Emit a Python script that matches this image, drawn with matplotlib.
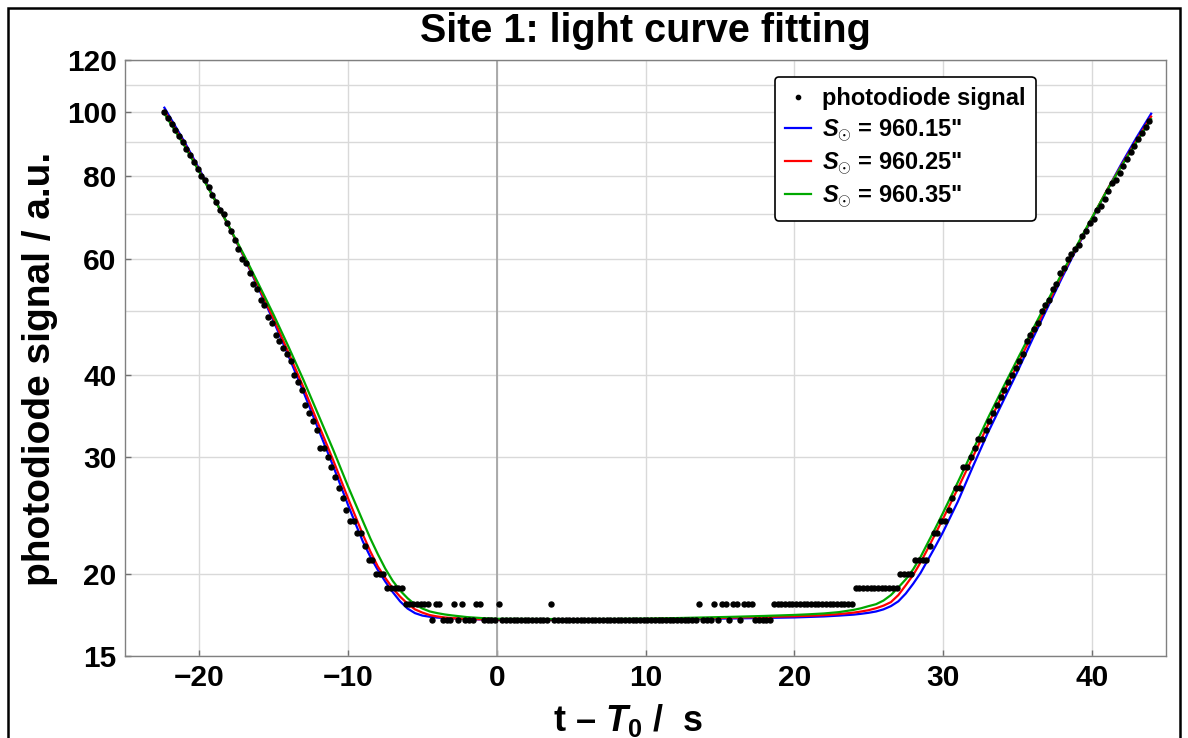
import numpy as np
import matplotlib.pyplot as plt
from matplotlib.patches import Rectangle
from matplotlib.ticker import NullFormatter

plt.rcParams['font.family'] = ['Liberation Sans', 'DejaVu Sans']
plt.rcParams['font.weight'] = 'bold'
plt.rcParams['mathtext.fontset'] = 'custom'
plt.rcParams['mathtext.rm'] = 'Liberation Sans:bold'
plt.rcParams['mathtext.it'] = 'Liberation Sans:italic:bold'
plt.rcParams['mathtext.bf'] = 'Liberation Sans:bold'

# photodiode readout, one sample every 0.25 s starting at t_first
t_first = -22.37
t_step = 0.25
signal = ([100, 98, 96, 94, 92, 90, 88, 86, 84, 82,
           80, 79, 77, 75, 73, 71, 70, 68, 66, 64,
           62, 60, 59, 57, 55, 54, 52, 51, 49, 48,
           46, 45, 44, 43, 42, 40, 39, 38, 36, 35,
           34, 33, 31, 31, 30, 29, 28, 27, 26, 25,
           24, 24, 23, 23, 22, 21, 21, 20, 20, 20,
           19, 19, 19, 19, 19, 18, 18, 18, 18, 18,
           18, 18, 17, 18, 18, 17, 17, 17, 18, 17,
           18, 17, 17, 17, 18, 18, 17, 17, 17, 17,
           18, 17, 17, 17, 17, 17, 17, 17, 17, 17,
           17, 17, 17, 17, 18]
          + [17] * 39
          + [18, 17, 17, 17, 18, 17,
             18, 18, 17, 18, 18, 17, 18, 18, 18, 17,
             17, 17, 17, 17]
          + [18] * 22
          + [19] * 12
          + [20, 20, 20, 20, 21, 21, 21, 21, 22, 23, 23, 24,
             24, 25, 26, 27, 27, 29, 29, 30, 31, 32,
             32, 33, 34, 35, 36, 37, 38, 39, 40, 41,
             42, 43, 45, 46, 47, 48, 50, 51, 52, 54,
             55, 57, 58, 60, 61, 62, 63, 65, 66, 68,
             69, 71, 72, 74, 76, 78, 79, 81, 83, 85,
             87, 89, 91, 93, 95, 97])

# fitted light curves for three solar radii
model_t = [-22.35, -21, -20, -19, -18, -17, -16, -15, -14, -13, -12, -11, -10,
           -9.5, -9, -8.5, -8, -7.5, -7, -6.5, -6, -5.5, -5, -4.5, -4, -3.5,
           -3, -2, -1, 0, 2, 5, 8, 10, 12, 14, 16, 18, 20, 21, 22, 23, 24,
           24.5, 25, 25.5, 26, 26.5, 27, 27.5, 28, 28.5, 29, 29.5, 30, 31,
           32, 33, 34, 35, 36, 37, 38, 39, 40, 41, 42, 43, 44]
fit_015 = [101.6, 90.2, 82.0, 74.2, 67.0, 60.3, 54.0, 48.2, 42.7, 37.7, 33.1,
           29.1, 25.4, 23.8, 22.35, 21.2, 20.25, 19.45, 18.75, 18.15, 17.7,
           17.42, 17.27, 17.2, 17.15, 17.12, 17.1, 17.06, 17.04, 17.02,
           17.02, 17.02, 17.03, 17.04, 17.06, 17.08, 17.1, 17.13, 17.16,
           17.19, 17.22, 17.27, 17.33, 17.38, 17.44, 17.52, 17.65, 17.85,
           18.15, 18.65, 19.3, 20.05, 21.0, 22.0, 23.1, 25.7, 29.0, 32.6,
           36.3, 40.4, 45.2, 50.4, 56.1, 62.2, 68.8, 75.9, 83.5, 91.4, 99.5]
fit_025 = [100.5, 89.5, 81.5, 74.0, 67.0, 60.5, 54.3, 48.6, 43.2, 38.3, 33.7,
           29.7, 26.0, 24.4, 22.9, 21.6, 20.5, 19.7, 19.0, 18.45, 18.0,
           17.65, 17.45, 17.3, 17.22, 17.16, 17.12, 17.07, 17.05, 17.03,
           17.03, 17.03, 17.04, 17.06, 17.09, 17.12, 17.15, 17.19, 17.23,
           17.26, 17.3, 17.36, 17.45, 17.52, 17.6, 17.72, 17.88, 18.1,
           18.55, 19.2, 19.9, 20.8, 21.85, 23.0, 24.2, 26.9, 30.0, 33.5,
           37.3, 41.4, 46.0, 51.0, 56.6, 62.5, 69.0, 76.0, 83.0, 90.5, 98.5]
fit_035 = [99.5, 88.9, 81.2, 73.9, 67.1, 60.8, 54.8, 49.3, 44.1, 39.3, 34.8,
           30.8, 27.1, 25.5, 24.0, 22.6, 21.4, 20.35, 19.5, 18.85, 18.35,
           17.95, 17.7, 17.52, 17.42, 17.34, 17.28, 17.18, 17.12, 17.08,
           17.07, 17.06, 17.07, 17.09, 17.12, 17.16, 17.2, 17.25, 17.31,
           17.35, 17.4, 17.48, 17.62, 17.72, 17.85, 17.97, 18.2, 18.55,
           19.05, 19.6, 20.3, 21.2, 22.3, 23.45, 24.7, 27.5, 30.7, 34.3,
           38.1, 42.2, 46.7, 51.6, 57.0, 62.8, 69.1, 75.9, 82.8, 90.0, 97.6]
radii = ['960.15', '960.25', '960.35']
fits = [fit_015, fit_025, fit_035]
colors = ['#0000ff', '#ff0000', '#00a800']

y_ticks = [15, 20, 30, 40, 60, 80, 100, 120]
y_minor = [50, 70, 90, 110]
x_ticks = [-20, -10, 0, 10, 20, 30, 40]

t = t_first + t_step * np.arange(len(signal))

fig = plt.figure(figsize=(11.88, 7.38), dpi=100)
ax = fig.add_axes([125 / 1188, 82 / 738, 1041 / 1188, 596 / 738])

ax.set_yscale('log')
ax.set_xlim(-25, 45)
ax.set_ylim(15, 120)
ax.set_yticks(y_ticks)
ax.set_yticklabels([str(v) for v in y_ticks])
ax.set_yticks(y_minor, minor=True)
ax.yaxis.set_minor_formatter(NullFormatter())
ax.set_xticks(x_ticks)
ax.set_xticklabels([str(v).replace('-', '\u2212') for v in x_ticks])

ax.grid(True, which='both', color='#d9d9d9', lw=1, zorder=0)
ax.set_axisbelow(True)
ax.axvline(0, color='#a6a6a6', lw=1.3, zorder=1)

ax.tick_params(which='major', direction='in', length=4, width=1,
               color='#707070', labelsize=21.5, pad=6)
ax.tick_params(which='minor', length=0)
for sp in ax.spines.values():
    sp.set_color('#808080')
    sp.set_linewidth(1)

handles = []
for r, vals, c in zip(radii, fits, colors):
    h, = ax.plot(model_t, vals, color=c, lw=1.6, zorder=3,
                 label=r'$S_{\odot}$ = ' + r + '"')
    handles.append(h)
dots, = ax.plot(t, signal, 'o', color='black', ms=3.6, ls='none', zorder=4,
                label='photodiode signal')

leg = ax.legend([dots] + handles, ['photodiode signal'] + [h.get_label() for h in handles],
                loc='upper left', bbox_to_anchor=(0.624, 0.972), borderaxespad=0,
                numpoints=1, markerscale=0.85, prop={'weight': 'bold', 'size': 17},
                frameon=True, fancybox=True, framealpha=1, edgecolor='black',
                handlelength=1.1, handletextpad=0.45, labelspacing=0.27,
                borderpad=0.45)
leg.get_frame().set_linewidth(1.2)

fig.text(645 / 1188, 1 - 31 / 738, 'Site 1: light curve fitting',
         ha='center', va='center', fontsize=28.5, fontweight='bold')
fig.text(40 / 1188, 1 - 369 / 738, 'photodiode signal / a.u.', rotation=90,
         ha='center', va='center', fontsize=28, fontweight='bold')
fig.text(628 / 1188, 1 - 731 / 738, r't – $T_0$ /  s',
         ha='center', va='baseline', fontsize=26, fontweight='bold')

fig.patches.append(Rectangle((8 / 1188, -0.05), 1172 / 1188, 1 - 8 / 738 + 0.05,
                             transform=fig.transFigure, fill=False,
                             edgecolor='black', lw=1.8))

fig.savefig('out.png', dpi=100)
